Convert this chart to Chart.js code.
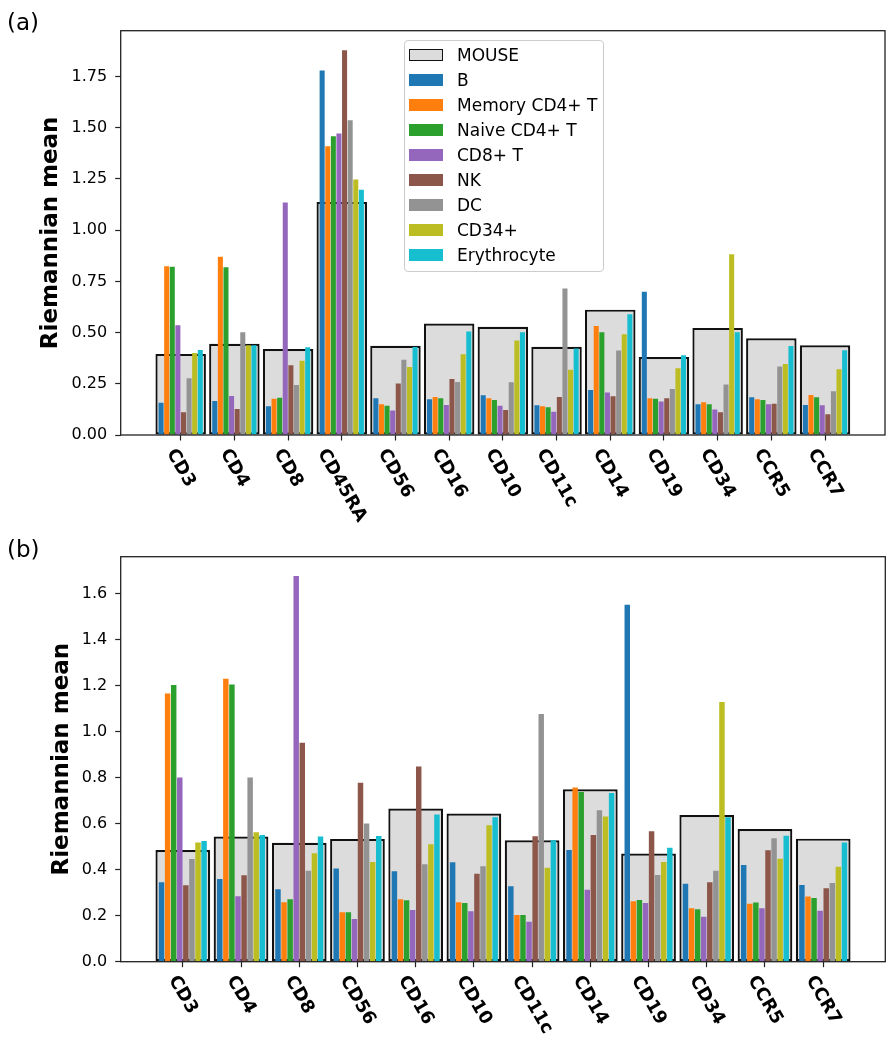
<!DOCTYPE html>
<html lang="en">
<head>
<meta charset="UTF-8">
<title>Riemannian mean per marker</title>
<script src="https://cdn.jsdelivr.net/npm/chart.js"></script>
<style>
    body {
        margin: 0;
        background: #fff;
        font-family: 'DejaVu Sans', sans-serif;
        color: #000;
    }
    .page {
        position: relative;
        width: 893px;
        height: 1050px;
    }
    .panel {
        position: absolute;
        left: 0;
        width: 893px;
        height: 525px;
    }
    .tag {
        position: absolute;
        left: 7px;
        font-size: 23px;
        line-height: 1;
    }
    #legend {
        position: absolute;
        left: 404px;
        top: 39.5px;
        width: 198px;
        height: 229px;
        border: 1px solid #cccccc;
        border-radius: 4px;
        background: rgba(255, 255, 255, 0.8);
        padding-top: 1.5px;
        box-sizing: content-box;
    }
    .row {
        display: flex;
        align-items: center;
        height: 25px;
        font-size: 17px;
    }
    .swatch {
        width: 34px;
        height: 12px;
        margin-left: 4px;
        margin-right: 14px;
        box-sizing: border-box;
    }
</style>
</head>
<body>
<div class="page">
    <div class="panel" style="top:0"><canvas id="chartA" width="893" height="525"></canvas></div>
    <div class="panel" style="top:525px"><canvas id="chartB" width="893" height="525"></canvas></div>
    <div class="tag" style="top:10.8px">(a)</div>
    <div class="tag" style="top:538.2px">(b)</div>
    <div id="legend"></div>
</div>
<script>
    // series names and colours (MOUSE first, then human cell types)
    const seriesNames = ['MOUSE', 'B', 'Memory CD4+ T', 'Naive CD4+ T', 'CD8+ T', 'NK', 'DC', 'CD34+', 'Erythrocyte'];
    const seriesColors = ['#dcdcdc', '#1f77b4', '#ff7f0e', '#2ca02c', '#9467bd', '#8c564b', '#939393', '#bcbd22', '#17becf'];

    // panel (a)
    const categoriesA = ['CD3', 'CD4', 'CD8', 'CD45RA', 'CD56', 'CD16', 'CD10', 'CD11c', 'CD14', 'CD19', 'CD34', 'CCR5', 'CCR7'];
    const mouseA = [0.396, 0.445, 0.420, 1.138, 0.436, 0.544, 0.528, 0.431, 0.612, 0.381, 0.523, 0.472, 0.438];
    const bA     = [0.158, 0.166, 0.140, 1.780, 0.179, 0.174, 0.194, 0.145, 0.220, 0.700, 0.150, 0.184, 0.147];
    const memA   = [0.824, 0.870, 0.177, 1.410, 0.150, 0.186, 0.179, 0.140, 0.532, 0.179, 0.160, 0.174, 0.195];
    const naiveA = [0.821, 0.819, 0.182, 1.459, 0.143, 0.179, 0.171, 0.135, 0.502, 0.177, 0.150, 0.171, 0.184];
    const cd8A   = [0.536, 0.190, 1.135, 1.472, 0.120, 0.147, 0.143, 0.114, 0.207, 0.164, 0.125, 0.150, 0.145];
    const nkA    = [0.111, 0.127, 0.340, 1.879, 0.252, 0.274, 0.122, 0.186, 0.189, 0.179, 0.111, 0.153, 0.101];
    const dcA    = [0.277, 0.502, 0.244, 1.537, 0.368, 0.259, 0.257, 0.715, 0.412, 0.225, 0.246, 0.334, 0.213];
    const cd34A  = [0.400, 0.438, 0.363, 1.247, 0.332, 0.394, 0.462, 0.318, 0.492, 0.326, 0.883, 0.347, 0.321];
    const eryA   = [0.415, 0.438, 0.428, 1.198, 0.430, 0.505, 0.502, 0.422, 0.590, 0.389, 0.502, 0.435, 0.414];
    const yTicksA = [0, 0.25, 0.5, 0.75, 1.0, 1.25, 1.5, 1.75];

    // panel (b)
    const categoriesB = ['CD3', 'CD4', 'CD8', 'CD56', 'CD16', 'CD10', 'CD11c', 'CD14', 'CD19', 'CD34', 'CCR5', 'CCR7'];
    const mouseB = [0.486, 0.544, 0.517, 0.534, 0.666, 0.644, 0.528, 0.750, 0.470, 0.638, 0.577, 0.535];
    const bB     = [0.345, 0.360, 0.315, 0.405, 0.393, 0.432, 0.328, 0.486, 1.552, 0.339, 0.421, 0.334];
    const memB   = [1.166, 1.230, 0.258, 0.215, 0.271, 0.258, 0.203, 0.757, 0.263, 0.232, 0.252, 0.283];
    const naiveB = [1.203, 1.205, 0.271, 0.215, 0.267, 0.255, 0.203, 0.738, 0.268, 0.228, 0.257, 0.277];
    const cd8B   = [0.801, 0.285, 1.677, 0.186, 0.225, 0.219, 0.174, 0.313, 0.255, 0.195, 0.232, 0.222];
    const nkB    = [0.332, 0.376, 0.952, 0.778, 0.849, 0.382, 0.546, 0.551, 0.567, 0.345, 0.485, 0.319];
    const dcB    = [0.447, 0.801, 0.395, 0.601, 0.424, 0.415, 1.077, 0.659, 0.377, 0.396, 0.537, 0.342];
    const cd34B  = [0.518, 0.563, 0.472, 0.434, 0.511, 0.593, 0.409, 0.631, 0.434, 1.129, 0.448, 0.413];
    const eryB   = [0.525, 0.551, 0.544, 0.547, 0.640, 0.628, 0.528, 0.734, 0.496, 0.628, 0.548, 0.518];
    const yTicksB = [0, 0.2, 0.4, 0.6, 0.8, 1.0, 1.2, 1.4, 1.6];

    Chart.defaults.font.family = "'DejaVu Sans', sans-serif";
    Chart.defaults.color = '#000';

    // box around the plot area + rotated bold category labels
    const framePlugin = {
        id: 'framePlugin',
        afterDatasetsDraw(chart) {
            const { ctx, chartArea: a } = chart;
            ctx.save();
            ctx.strokeStyle = '#222';
            ctx.lineWidth = 1.3;
            ctx.strokeRect(a.left, a.top, a.right - a.left, a.bottom - a.top);
            ctx.restore();
        },
        afterDraw(chart, args, opts) {
            const { ctx, chartArea: a } = chart;
            const x = chart.scales.x;
            const ang = 60 * Math.PI / 180;
            ctx.save();
            ctx.font = 'bold 18px "DejaVu Sans"';
            ctx.fillStyle = '#000';
            ctx.textAlign = 'center';
            ctx.textBaseline = 'middle';
            opts.labels.forEach((lab, i) => {
                const w = ctx.measureText(lab).width;
                const bh = w * Math.sin(ang) + 18 * Math.cos(ang);
                ctx.save();
                ctx.translate(x.getPixelForValue(i), a.bottom + opts.gap + bh / 2);
                ctx.rotate(ang);
                ctx.fillText(lab, 0, 0);
                ctx.restore();
            });
            ctx.restore();
        }
    };

    function makeChart(id, categories, values, cfg) {
        const datasets = values.map((vals, k) => {
            if (k === 0) {
                return {
                    label: seriesNames[0],
                    data: vals,
                    backgroundColor: seriesColors[0],
                    borderColor: '#111',
                    borderWidth: 2.2,
                    borderSkipped: false,
                    grouped: false,
                    categoryPercentage: 0.94,
                    barPercentage: 1.0,
                    order: 1
                };
            }
            return {
                label: seriesNames[k],
                data: vals,
                backgroundColor: seriesColors[k],
                borderWidth: 0,
                categoryPercentage: 0.835,
                barPercentage: 0.9,
                order: 0
            };
        });

        return new Chart(document.getElementById(id), {
            type: 'bar',
            data: {
                labels: categories.map((c, i) => i),
                datasets: datasets
            },
            options: {
                responsive: false,
                animation: false,
                layout: { padding: cfg.padding },
                plugins: {
                    legend: { display: false },
                    tooltip: { enabled: false },
                    framePlugin: { labels: categories, gap: 11 }
                },
                scales: {
                    x: {
                        type: 'linear',
                        offset: false,
                        min: cfg.xMin,
                        max: cfg.xMax,
                        afterBuildTicks: (s) => { s.ticks = categories.map((c, i) => ({ value: i })); },
                        afterFit: (s) => { s.height = cfg.xHeight; },
                        ticks: { display: false },
                        grid: {
                            offset: false,
                            drawOnChartArea: false,
                            tickLength: 5.5,
                            tickColor: '#222',
                            tickWidth: 1.2
                        },
                        border: { display: false }
                    },
                    y: {
                        min: 0,
                        max: cfg.yMax,
                        afterBuildTicks: (s) => { s.ticks = cfg.yTicks.map(v => ({ value: v })); },
                        afterFit: (s) => { s.width = cfg.yWidth; },
                        ticks: {
                            padding: 8,
                            font: { size: 16 },
                            callback: (v) => Number(v).toFixed(cfg.decimals)
                        },
                        grid: {
                            drawOnChartArea: false,
                            tickLength: 5.5,
                            tickColor: '#222',
                            tickWidth: 1.2
                        },
                        border: { display: false },
                        title: {
                            display: true,
                            text: 'Riemannian mean',
                            font: { size: 23, weight: 'bold' }
                        }
                    }
                }
            },
            plugins: [framePlugin]
        });
    }

    makeChart('chartA', categoriesA,
        [mouseA, bA, memA, naiveA, cd8A, nkA, dcA, cd34A, eryA],
        { padding: { left: 33, top: 30.7, right: 8, bottom: 0 }, yWidth: 87.7, xHeight: 90,
          xMin: -1.117, xMax: 13.117, yMax: 1.974, yTicks: yTicksA, decimals: 2 });

    makeChart('chartB', categoriesB,
        [mouseB, bB, memB, naiveB, cd8B, nkB, dcB, cd34B, eryB],
        { padding: { left: 44.7, top: 31.7, right: 7.7, bottom: 0 }, yWidth: 76, xHeight: 88.3,
          xMin: -1.067, xMax: 12.067, yMax: 1.761, yTicks: yTicksB, decimals: 1 });

    // legend (only shown on panel a)
    const legend = document.getElementById('legend');
    seriesNames.forEach((name, k) => {
        const row = document.createElement('div');
        row.className = 'row';
        const border = k === 0 ? 'border:1.8px solid #111;' : '';
        row.innerHTML = `<div class="swatch" style="background:${seriesColors[k]};${border}"></div><span>${name}</span>`;
        legend.appendChild(row);
    });
</script>
</body>
</html>
